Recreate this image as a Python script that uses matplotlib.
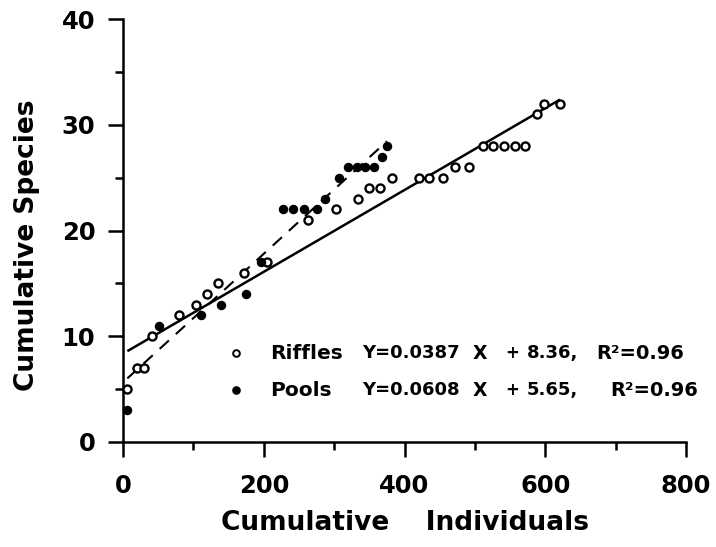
import numpy as np
import matplotlib.pyplot as plt
from matplotlib.ticker import MultipleLocator

plt.rcParams['font.family'] = 'DejaVu Sans'
plt.rcParams['font.weight'] = 'bold'

# cumulative species vs cumulative individuals
riffle_x = [6, 20, 30, 41, 80, 104, 119, 135, 172, 205, 263, 303, 334, 349, 365,
            382, 421, 435, 455, 472, 492, 511, 526, 541, 557, 571, 588, 598, 621]
riffle_y = [5, 7, 7, 10, 12, 13, 14, 15, 16, 17, 21, 22, 23, 24, 24,
            25, 25, 25, 25, 26, 26, 28, 28, 28, 28, 28, 31, 32, 32]

pool_x = [6, 51, 111, 139, 175, 196, 227, 241, 257, 275, 287, 307, 320, 332,
          344, 356, 368, 375]
pool_y = [3, 11, 12, 13, 14, 17, 22, 22, 22, 22, 23, 25, 26, 26,
          26, 26, 27, 28]

# regression fits (slope, intercept)
riffle_fit = (0.0387, 8.36)
pool_fit = (0.0608, 5.65)

fig = plt.figure(figsize=(7.16, 5.47), dpi=100)
ax = fig.add_axes([0.172, 0.192, 0.786, 0.773])

xr = np.array([min(riffle_x), max(riffle_x)])
ax.plot(xr, riffle_fit[0] * xr + riffle_fit[1], color='black', lw=1.8,
        solid_capstyle='butt')
xp = np.array([min(pool_x), max(pool_x)])
ax.plot(xp, pool_fit[0] * xp + pool_fit[1], color='black', lw=1.5,
        linestyle=(0, (6, 4.5)))

ax.plot(riffle_x, riffle_y, 'o', ms=5.8, mfc='white', mec='black', mew=1.7,
        clip_on=False, zorder=3)
ax.plot(pool_x, pool_y, 'o', ms=5.8, mfc='black', mec='black', mew=1.0,
        clip_on=False, zorder=3)

ax.set_xlim(0, 800)
ax.set_ylim(0, 40)
ax.xaxis.set_major_locator(MultipleLocator(200))
ax.xaxis.set_minor_locator(MultipleLocator(100))
ax.yaxis.set_major_locator(MultipleLocator(10))
ax.yaxis.set_minor_locator(MultipleLocator(5))

for side in ['top', 'right']:
    ax.spines[side].set_visible(False)
for side in ['left', 'bottom']:
    ax.spines[side].set_linewidth(1.8)

ax.tick_params(axis='both', which='major', direction='out', length=11,
               width=1.8, labelsize=17.5)
ax.tick_params(axis='both', which='minor', direction='out', length=5.5,
               width=1.8)
ax.tick_params(axis='x', which='major', pad=12)
ax.tick_params(axis='y', which='major', pad=9)

ax.set_xlabel('Cumulative    Individuals', fontsize=19, fontweight='bold',
              labelpad=9)
ax.set_ylabel('Cumulative Species', fontsize=19, fontweight='bold')
ax.yaxis.set_label_coords(-0.148, 0.466)

# legend with regression equations
rows = [
    (8.4, 'white', 'Riffles', 'Y=0.0387', '8.36,', 673),
    (4.9, 'black', 'Pools', 'Y=0.0608', '5.65,', 692),
]
for y, face, name, eq, icpt, rx in rows:
    ax.plot([160], [y], 'o', ms=4.8, mfc=face, mec='black', mew=1.4)
    ax.text(209, y, name, fontsize=14.5, va='center', ha='left')
    ax.text(339, y, eq, fontsize=13, va='center', ha='left')
    ax.text(497, y, 'X', fontsize=13.5, va='center', ha='left')
    ax.text(543, y, '+', fontsize=12, va='center', ha='left')
    ax.text(574, y, icpt, fontsize=13, va='center', ha='left')
    ax.text(rx, y, 'R²=0.96', fontsize=14, va='center', ha='left')

fig.savefig('out.png', dpi=100)
